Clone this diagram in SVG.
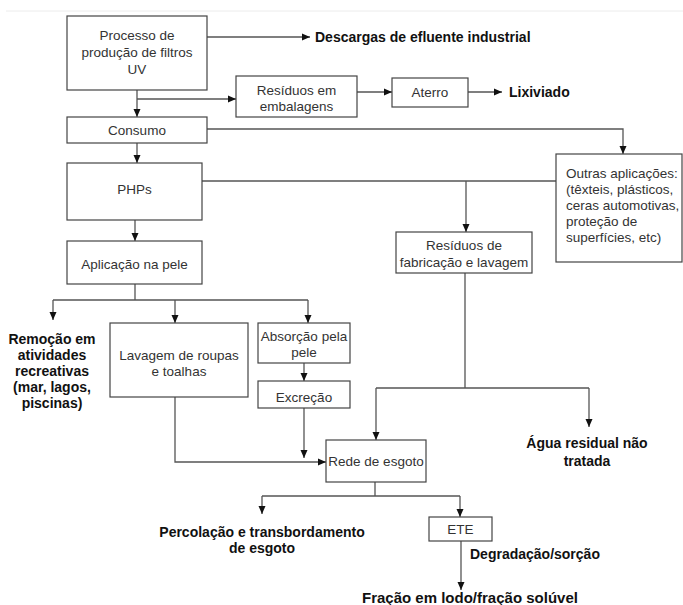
<svg xmlns="http://www.w3.org/2000/svg" width="683" height="605" viewBox="0 0 683 605">
<defs>
<style>
.box{fill:#fff;stroke:#444;stroke-width:1.2}
.t{font-family:"Liberation Sans",Arial,sans-serif;font-size:13.5px;fill:#333;text-anchor:middle}
.tl{font-family:"Liberation Sans",Arial,sans-serif;font-size:13.5px;fill:#333}
.b{font-family:"Liberation Sans",Arial,sans-serif;font-size:14px;font-weight:bold;fill:#111;text-anchor:middle}
.bl{font-family:"Liberation Sans",Arial,sans-serif;font-size:14px;font-weight:bold;fill:#111}
.c{fill:none;stroke:#555;stroke-width:1.3}
.a{marker-end:url(#arr)}
</style>
<marker id="arr" markerUnits="userSpaceOnUse" markerWidth="8" markerHeight="8" refX="8" refY="4" orient="auto">
<path d="M0,0.5 L8,4 L0,7.5 z" fill="#111"/>
</marker>
</defs>
<rect width="683" height="605" fill="#fff"/>
<line x1="6" y1="11" x2="683" y2="11" stroke="#ececec" stroke-width="1"/>

<g id="connectors">
<path class="c a" d="M207,37 H310"/>
<path class="c a" d="M137,90 V117"/>
<path class="c a" d="M137,99 H236"/>
<path class="c a" d="M357,92 H392"/>
<path class="c a" d="M468,92 H502"/>
<path class="c a" d="M207,129 H623 V154"/>
<path class="c a" d="M137,143 V163"/>
<path class="c" d="M202,181 H556"/>
<path class="c a" d="M466,181 V232"/>
<path class="c a" d="M135,220 V241"/>
<path class="c" d="M135,284 V300 M53,300 H308"/>
<path class="c a" d="M53,300 V320"/>
<path class="c a" d="M175,300 V323"/>
<path class="c a" d="M308,300 V323"/>
<path class="c a" d="M304,363 V381"/>
<path class="c a" d="M304,408 V458"/>
<path class="c a" d="M175,397 V462 H326"/>
<path class="c" d="M465,273 V388 M376,388 H589"/>
<path class="c a" d="M376,388 V440"/>
<path class="c a" d="M589,388 V427"/>
<path class="c" d="M375,482 V496 M262,496 H460"/>
<path class="c a" d="M262,496 V514"/>
<path class="c a" d="M460,496 V517"/>
<path class="c a" d="M461,541 V590"/>
</g>

<g id="processo">
<rect class="box" x="67" y="16" width="140" height="74"/>
<text class="t" x="137" y="40">Processo de</text>
<text class="t" x="137" y="57">produção de filtros</text>
<text class="t" x="137" y="74">UV</text>
</g>
<g id="descargas"><text class="bl" x="315" y="42">Descargas de efluente industrial</text></g>
<g id="residuos-embalagens">
<rect class="box" x="236" y="76" width="121" height="41"/>
<text class="t" x="296.5" y="95">Resíduos em</text>
<text class="t" x="296.5" y="111">embalagens</text>
</g>
<g id="aterro">
<rect class="box" x="392" y="78" width="76" height="29"/>
<text class="t" x="430" y="97">Aterro</text>
</g>
<g id="lixiviado"><text class="bl" x="509" y="97">Lixiviado</text></g>
<g id="consumo">
<rect class="box" x="67" y="117" width="140" height="26"/>
<text class="t" x="137" y="135">Consumo</text>
</g>
<g id="phps">
<rect class="box" x="67" y="163" width="135" height="57"/>
<text class="t" x="134.5" y="194">PHPs</text>
</g>
<g id="outras">
<rect class="box" x="556" y="154" width="126" height="108"/>
<text class="tl" x="566" y="178">Outras aplicações:</text>
<text class="tl" x="566" y="194">(têxteis, plásticos,</text>
<text class="tl" x="566" y="210">ceras automotivas,</text>
<text class="tl" x="566" y="226">proteção de</text>
<text class="tl" x="566" y="242">superfícies, etc)</text>
</g>
<g id="aplicacao">
<rect class="box" x="67" y="241" width="135" height="43"/>
<text class="t" x="134.5" y="269">Aplicação na pele</text>
</g>
<g id="residuos-fabricacao">
<rect class="box" x="396" y="232" width="136" height="41"/>
<text class="t" x="464" y="250">Resíduos de</text>
<text class="t" x="464" y="267">fabricação e lavagem</text>
</g>
<g id="remocao">
<text class="b" x="52" y="344">Remoção em</text>
<text class="b" x="52" y="360">atividades</text>
<text class="b" x="52" y="376">recreativas</text>
<text class="b" x="52" y="392">(mar, lagos,</text>
<text class="b" x="52" y="408">piscinas)</text>
</g>
<g id="lavagem">
<rect class="box" x="110" y="323" width="138" height="74"/>
<text class="t" x="179" y="360">Lavagem de roupas</text>
<text class="t" x="179" y="376">e toalhas</text>
</g>
<g id="absorcao">
<rect class="box" x="258" y="323" width="92" height="40"/>
<text class="t" x="304" y="341">Absorção pela</text>
<text class="t" x="304" y="357">pele</text>
</g>
<g id="excrecao">
<rect class="box" x="258" y="381" width="92" height="27"/>
<text class="t" x="304" y="402">Excreção</text>
</g>
<g id="agua">
<text class="b" x="587" y="448">Água residual não</text>
<text class="b" x="587" y="466">tratada</text>
</g>
<g id="rede">
<rect class="box" x="326" y="440" width="100" height="42"/>
<text class="t" x="376" y="466">Rede de esgoto</text>
</g>
<g id="percolacao">
<text class="b" x="262" y="537">Percolação e transbordamento</text>
<text class="b" x="262" y="553">de esgoto</text>
</g>
<g id="ete">
<rect class="box" x="429" y="517" width="63" height="24"/>
<text class="t" x="460.5" y="534">ETE</text>
</g>
<g id="degradacao"><text class="bl" x="470" y="559">Degradação/sorção</text></g>
<g id="fracao"><text class="bl" x="362" y="603" style="font-size:15px">Fração em lodo/fração solúvel</text></g>
</svg>
